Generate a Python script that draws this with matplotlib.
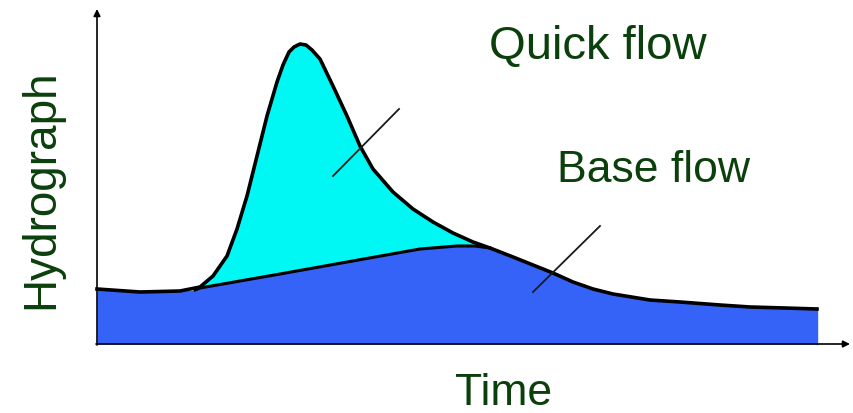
import matplotlib
matplotlib.use("Agg")
import matplotlib.pyplot as plt
import numpy as np

# Time (x) and flow (y) values (arbitrary units)
time_total = [0, 43, 83, 103, 116, 130, 140, 150, 160, 170, 180, 186, 192, 197, 203,
              209, 215, 223, 236, 250, 263, 276, 296, 316, 336, 356, 376, 393,
              416, 436, 456, 476, 496, 516, 553, 583, 623, 653, 688, 720]
flow_total = [55, 52, 53, 57, 68, 88, 115, 148, 188, 228, 262, 279, 292, 297, 300,
              299, 294, 285, 258, 228, 198, 175, 152, 135, 122, 111, 102, 96,
              87, 79, 71, 62, 55, 50, 44, 42, 39, 37, 36, 35]

time_base = [98, 103, 143, 183, 250, 323, 360, 378, 393]
flow_base = [54, 56, 63, 70, 82, 95, 98, 98, 96]

label_color = '#0B3F0B'

fig = plt.figure(figsize=(8.54, 4.14), dpi=100)
ax = fig.add_axes([0, 0, 1, 1])
ax.set_xlim(-97, 757)
ax.set_ylim(-69, 345)
ax.axis('off')

tt = np.array(time_total, float)
ft = np.array(flow_total, float)
tb = np.array(time_base, float)
fb = np.array(flow_base, float)

# base flow upper boundary: hydrograph outside the quick-flow window, base curve inside
bt = np.concatenate([tt[tt < tb[0]], tb, tt[tt > tb[-1]]])
bf = np.concatenate([ft[tt < tb[0]], fb, ft[tt > tb[-1]]])

ax.fill_between(bt, 0, bf, color='#3563F8', lw=0, zorder=1)
mask = (tt >= tb[0]) & (tt <= tb[-1])
qt = np.union1d(tt[mask], tb)
ax.fill_between(qt, np.interp(qt, tb, fb), np.interp(qt, tt, ft),
                color='#00F8F4', lw=0, zorder=1)

ax.plot(tt, ft, color='black', lw=2.6, zorder=3, solid_joinstyle='round')
ax.plot(tb, fb, color='black', lw=2.2, zorder=3, solid_joinstyle='round')
ax.plot([tt[-1], tt[-1]], [0, ft[-1]], color='#3563F8', lw=1, zorder=2)

# axes arrows
ax.annotate('', xy=(0, 335), xytext=(0, -1),
            arrowprops=dict(arrowstyle='-|>', color='black', lw=1.2,
                            mutation_scale=10, shrinkA=0, shrinkB=0), zorder=4)
ax.annotate('', xy=(753, 0), xytext=(-1, 0),
            arrowprops=dict(arrowstyle='-|>', color='black', lw=1.2,
                            mutation_scale=10, shrinkA=0, shrinkB=0), zorder=4)

# pointer lines
ax.plot([236, 302], [168, 235], color='#1a1a1a', lw=1.3, zorder=4)
ax.plot([436, 503], [52, 118], color='#1a1a1a', lw=1.3, zorder=4)

font = ['Liberation Sans', 'DejaVu Sans']
ax.text(501, 298, 'Quick flow', fontsize=34, family=font, color=label_color,
        ha='center', va='center')
ax.text(557, 174, 'Base flow', fontsize=32, family=font, color=label_color,
        ha='center', va='center')
ax.text(407, -49, 'Time', fontsize=32, family=font, color=label_color,
        ha='center', va='center')
ax.text(-56, 156, 'Hydrograph', fontsize=33, family=font, color=label_color,
        ha='center', va='center', rotation=90)

fig.savefig('out.png', dpi=100)
